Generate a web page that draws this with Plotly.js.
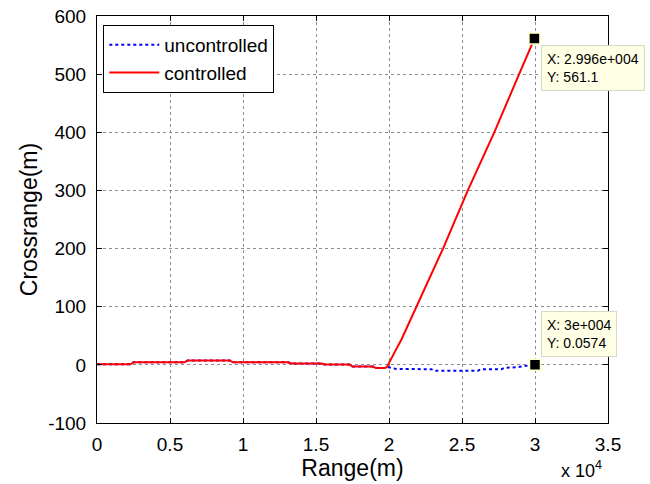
<!DOCTYPE html>
<html>
<head>
<meta charset="utf-8">
<script src="https://cdn.plot.ly/plotly-3.0.1.min.js"></script>
<style>
  html, body { margin: 0; padding: 0; background: #ffffff; }
  #chart { width: 650px; height: 484px; }
</style>
</head>
<body>
<div id="chart"></div>
<script>
// Shared portion of both trajectories (range in m, crossrange in m)
var rangeCommon = [0, 2300, 2500, 6000, 6200, 9100, 9300, 13100, 13300, 15400, 15600, 17300, 17500, 18900, 19100, 19700];
var crossCommon = [1, 1, 4.5, 4.5, 7.5, 7.5, 4.5, 4.5, 2.3, 2.3, 0.5, 0.5, -3, -3, -5.5, -5.5];

// Controlled tail
var rangeCtrlTail = [19850, 20000, 20370, 20860, 21884, 23700, 25400, 27211, 28912, 29960];
var crossCtrlTail = [-4, 4, 21, 44, 100, 200, 300, 400, 500, 561.1];

// Uncontrolled tail
var rangeUnctrlTail = [19960, 20500, 22900, 23100, 26100, 26300, 27700, 27900, 28800, 29200, 29700, 30000];
var crossUnctrlTail = [-4, -7, -7.5, -10, -10, -7.5, -7.5, -5, -4, -2, -0.5, 0.0574];

// Data tip points
var tipRange = [29960, 30000];
var tipCross = [561.1, 0.0574];
var tipLabelX = ["2.996e+004", "3e+004"];
var tipLabelY = ["561.1", "0.0574"];

// Axis ticks
var xTickVals = [0, 5000, 10000, 15000, 20000, 25000, 30000, 35000];
var xTickText = ["0", "0.5", "1", "1.5", "2", "2.5", "3", "3.5"];
var yTickVals = [-100, 0, 100, 200, 300, 400, 500, 600];
var yTickText = ["-100", "0", "100", "200", "300", "400", "500", "600"];

var FONT = "Arial, 'Liberation Sans', Helvetica, sans-serif";

var traces = [
  {
    x: rangeCommon.concat(rangeUnctrlTail),
    y: crossCommon.concat(crossUnctrlTail),
    type: "scatter", mode: "lines", name: "uncontrolled",
    line: { color: "#0000ff", width: 2, dash: "dot" }
  },
  {
    x: rangeCommon.concat(rangeCtrlTail),
    y: crossCommon.concat(crossCtrlTail),
    type: "scatter", mode: "lines", name: "controlled",
    line: { color: "#ff0000", width: 2 }
  },
  {
    x: tipRange, y: tipCross,
    type: "scatter", mode: "markers", showlegend: false, hoverinfo: "skip",
    marker: { symbol: "square", size: 11, color: "#000000", line: { color: "#ffffcc", width: 1.5 } },
    cliponaxis: false
  }
];

var tipShift = [{ xs: 7, ys: -6, ya: "top" }, { xs: 6, ys: 8, ya: "bottom" }];
var annotations = tipRange.map(function (xv, i) {
  return {
    x: xv, y: tipCross[i], xref: "x", yref: "y",
    text: "X: " + tipLabelX[i] + "<br>Y: " + tipLabelY[i],
    showarrow: false, xanchor: "left", yanchor: tipShift[i].ya,
    xshift: tipShift[i].xs, yshift: tipShift[i].ys,
    align: "left",
    font: { family: FONT, size: 14, color: "#000000" },
    bgcolor: "#ffffe6", bordercolor: "#d8d8c8", borderwidth: 1, borderpad: 5
  };
});
annotations.push({
  xref: "paper", yref: "paper", x: 0.905, y: -0.147,
  xanchor: "left", yanchor: "bottom", showarrow: false,
  text: "x 10<sup>4</sup>",
  font: { family: FONT, size: 18, color: "#000000" }
});

var layout = {
  width: 650, height: 484,
  margin: { l: 97, r: 42, t: 16, b: 61 },
  paper_bgcolor: "#ffffff", plot_bgcolor: "#ffffff",
  font: { family: FONT, size: 19, color: "#000000" },
  showlegend: true,
  legend: {
    x: 0.0123, y: 0.978, xanchor: "left", yanchor: "top",
    bgcolor: "#ffffff", bordercolor: "#000000", borderwidth: 1,
    font: { family: FONT, size: 19, color: "#000000" },
    itemwidth: 50
  },
  xaxis: {
    range: [0, 35000], tickmode: "array", tickvals: xTickVals, ticktext: xTickText,
    ticks: "inside", ticklen: 5, tickcolor: "#000000",
    showline: true, linecolor: "#000000", linewidth: 1, mirror: "ticks",
    showgrid: true, gridcolor: "#8c8c8c", griddash: "dot", gridwidth: 1,
    zeroline: false, automargin: false, ticklabelstandoff: 4,
    title: { text: "Range(m)", font: { family: FONT, size: 23 }, standoff: 6 }
  },
  yaxis: {
    range: [-100, 600], tickmode: "array", tickvals: yTickVals, ticktext: yTickText,
    ticks: "inside", ticklen: 5, tickcolor: "#000000",
    showline: true, linecolor: "#000000", linewidth: 1, mirror: "ticks",
    showgrid: true, gridcolor: "#8c8c8c", griddash: "dot", gridwidth: 1,
    zeroline: false, automargin: false, ticklabelstandoff: 6,
    title: { text: "Crossrange(m)", font: { family: FONT, size: 23 }, standoff: 4 }
  },
  annotations: annotations
};

Plotly.newPlot("chart", traces, layout, { staticPlot: true, displayModeBar: false });
</script>
</body>
</html>
